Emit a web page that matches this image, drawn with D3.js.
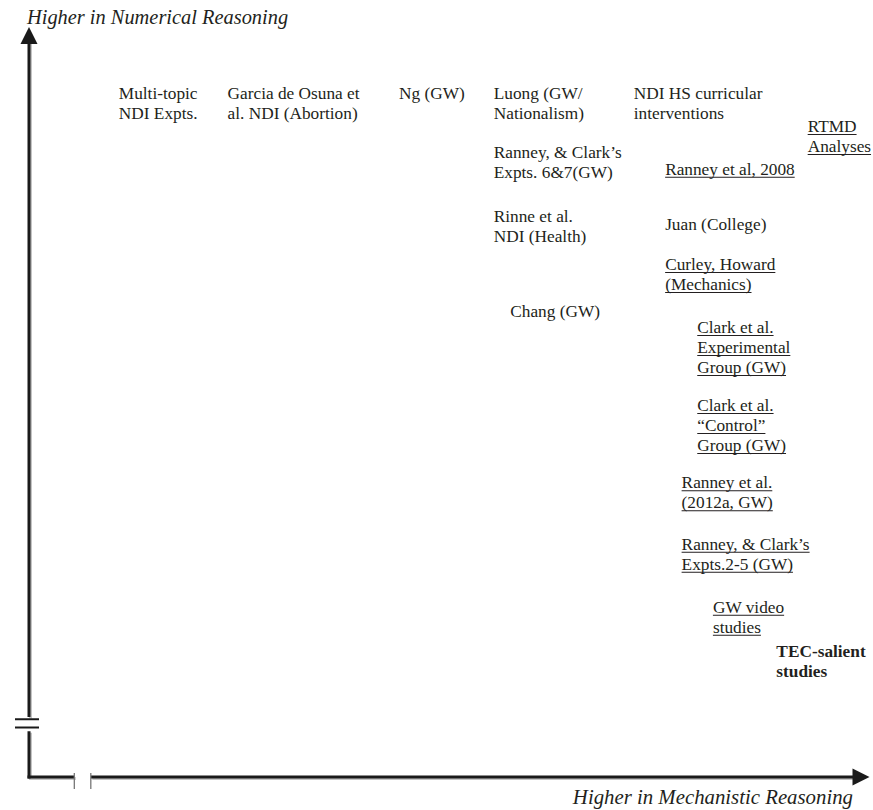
<!DOCTYPE html>
<html>
<head>
<meta charset="utf-8">
<script src="https://cdn.jsdelivr.net/npm/d3@7"></script>
<style>
  body { margin: 0; background: #fff; }
  text { font-family: "Liberation Serif", "Times New Roman", serif; fill: #231f20; }
</style>
</head>
<body>
<div id="chart-area"></div>
<script>
/*
*    conceptual map of studies: mechanistic vs numerical reasoning
*/
var width = 873;
var height = 810;

// study labels (lines), and their place in the space (0-10 on each dimension)
var labels = [
  ["Multi-topic", "NDI Expts."],
  ["Garcia de Osuna et", "al. NDI (Abortion)"],
  ["Ng (GW)"],
  ["Luong (GW/", "Nationalism)"],
  ["NDI HS curricular", "interventions"],
  ["RTMD", "Analyses"],
  ["Ranney, & Clark\u2019s", "Expts. 6&7(GW)"],
  ["Ranney et al, 2008"],
  ["Rinne et al.", "NDI (Health)"],
  ["Juan (College)"],
  ["Curley, Howard", "(Mechanics)"],
  ["Chang (GW)"],
  ["Clark et al.", "Experimental", "Group (GW)"],
  ["Clark et al.", "\u201cControl\u201d", "Group (GW)"],
  ["Ranney et al.", "(2012a, GW)"],
  ["Ranney, & Clark\u2019s", "Expts.2-5 (GW)"],
  ["GW video", "studies"],
  ["TEC-salient", "studies"]
];
var mechanistic = [1.09, 2.41, 4.49, 5.64, 7.34, 9.45, 5.64, 7.72, 5.64, 7.72, 7.72, 5.84, 8.11, 8.11, 7.92, 7.92, 8.30, 9.07];
var numerical   = [9.04, 9.04, 9.04, 9.04, 9.04, 8.60, 8.25, 8.03, 7.40, 7.29, 6.76, 6.14, 5.92, 4.88, 3.85, 3.03, 2.19, 1.60];
var underlined  = [false, false, false, false, false, true, false, true, false, false, true, false, true, true, true, true, true, false];
var bold        = [false, false, false, false, false, false, false, false, false, false, false, false, false, false, false, false, false, true];

var xTitle = "Higher in Mechanistic Reasoning";
var yTitle = "Higher in Numerical Reasoning";

var svg = d3.select("#chart-area")
  .append("svg")
  .attr("width", width)
  .attr("height", height);

// Scales
var x = d3.scaleLinear().domain([0, 10]).range([29, 853]);
var y = d3.scaleLinear().domain([0, 10]).range([777, 27]);

var ink = "#1a1a1a";
var shade = "#c4c4c4";
var fontSize = 17.3;
var lineH = 20;

// axes with breaks
var axes = svg.append("g").attr("class", "axes");

function seg(x1, y1, x2, y2, w, c, off) {
  axes.append("line")
    .attr("x1", x1 + off).attr("y1", y1 + off)
    .attr("x2", x2 + off).attr("y2", y2 + off)
    .attr("stroke", c).attr("stroke-width", w);
}

[[shade, 1.5], [ink, 0]].forEach(function (s) {
  // vertical (numerical) axis
  seg(x(0), y(9.8), x(0), y(0.8), 3, s[0], s[1]);
  seg(x(0), y(0.61), x(0), y(0) + 1.5, 3, s[0], s[1]);
  // horizontal (mechanistic) axis
  seg(x(0) - 1.5, y(0), x(0.55), y(0), 3, s[0], s[1]);
  seg(x(0.75), y(0), x(10), y(0), 3, s[0], s[1]);
});
// break marks on the vertical axis
[0.77, 0.66].forEach(function (v) {
  seg(x(0) - 14, y(v), x(0) + 10, y(v), 2, ink, 0);
});
// break ticks on the horizontal axis
[0.55, 0.75].forEach(function (v) {
  seg(x(v), y(0) - 4, x(v), y(0) + 12, 1.3, "#777", 0);
});

// arrow heads
axes.append("path")
  .attr("d", "M" + x(0) + "," + y(10) + "l-8.5,17h17z")
  .attr("fill", ink);
axes.append("path")
  .attr("d", "M" + x(10.2) + "," + y(0) + "l-17,-8.5v17z")
  .attr("fill", ink);

// axis titles
svg.append("text")
  .attr("x", x(0) - 2)
  .attr("y", 24)
  .attr("font-size", "20.4px")
  .attr("font-style", "italic")
  .text(yTitle);

svg.append("text")
  .attr("x", x(10))
  .attr("y", 804)
  .attr("font-size", "20.8px")
  .attr("font-style", "italic")
  .attr("text-anchor", "end")
  .text(xTitle);

// study labels
var items = labels.map(function (d, i) {
  return { lines: d, mx: mechanistic[i], ny: numerical[i], u: underlined[i], b: bold[i] };
});

var groups = svg.selectAll("g.study").data(items)
  .enter()
  .append("g")
  .attr("class", "study")
  .attr("transform", function (d) { return "translate(" + x(d.mx) + "," + y(d.ny) + ")"; });

groups.each(function (d) {
  var g = d3.select(this);
  d.lines.forEach(function (line, k) {
    var t = g.append("text")
      .attr("x", 0)
      .attr("y", k * lineH)
      .attr("font-size", fontSize + "px")
      .attr("font-weight", d.b ? "bold" : "normal")
      .text(line);
    if (d.u) {
      var w = t.node().getComputedTextLength();
      g.append("line")
        .attr("x1", 0).attr("x2", w)
        .attr("y1", k * lineH + 2.5).attr("y2", k * lineH + 2.5)
        .attr("stroke", "#231f20")
        .attr("stroke-width", 1);
    }
  });
});
</script>
</body>
</html>
